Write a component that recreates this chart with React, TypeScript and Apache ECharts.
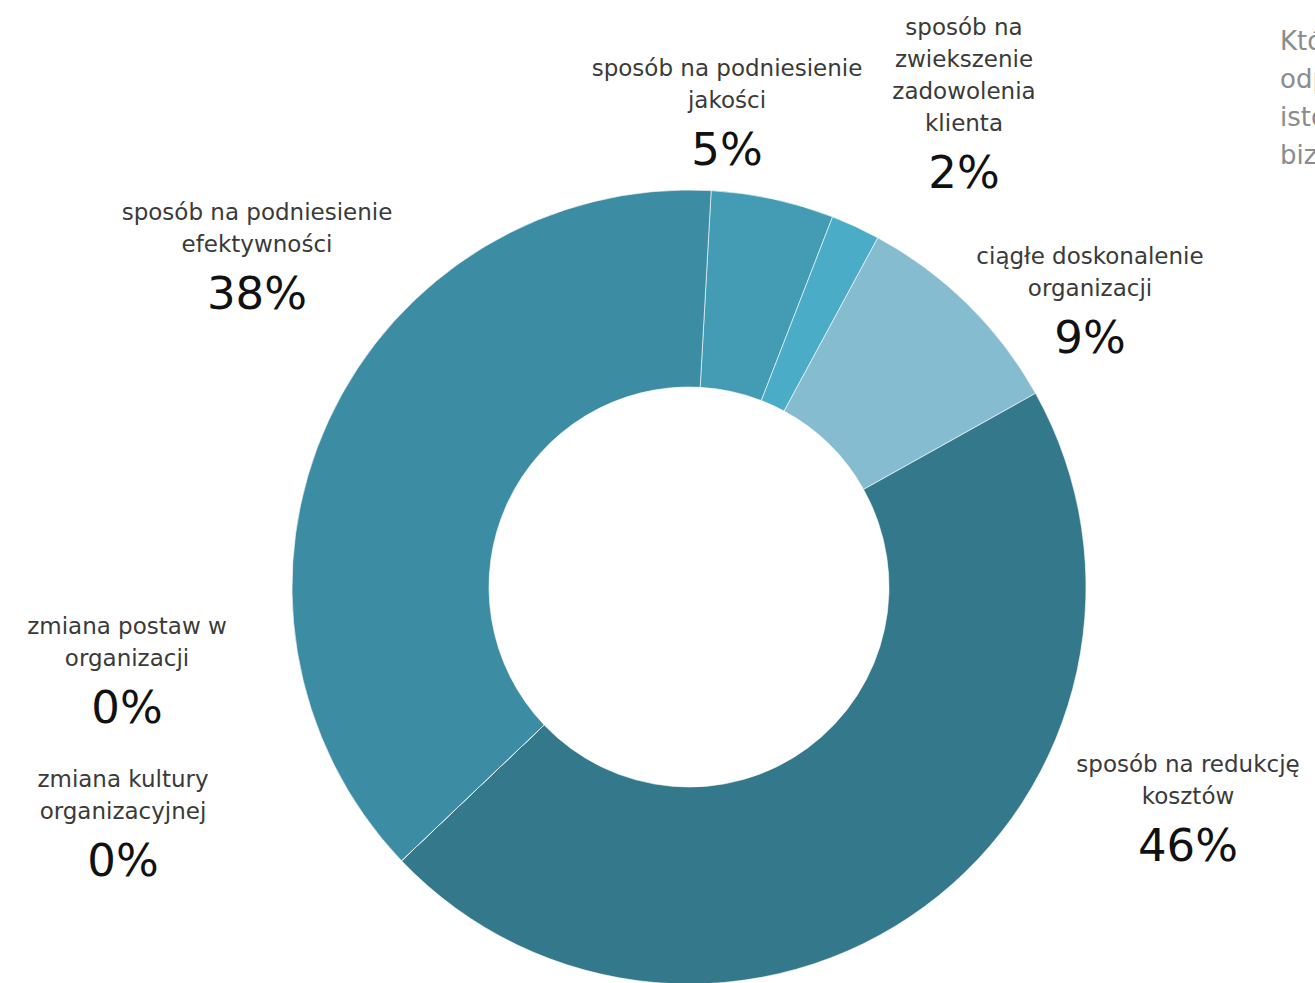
import React, { useEffect, useRef } from "react";
import * as echarts from "echarts";

const categories = [
  "sposób na podniesienie\njakości",
  "sposób na\nzwiekszenie\nzadowolenia\nklienta",
  "ciągłe doskonalenie\norganizacji",
  "sposób na redukcję\nkosztów",
  "zmiana postaw w\norganizacji",
  "zmiana kultury\norganizacyjnej",
  "sposób na podniesienie\nefektywności",
];
const values = [5, 2, 9, 46, 0, 0, 38];
const colors = ["#449cb4", "#4aacc6", "#86bccf", "#33798b", "#33798b", "#3c8ca4", "#3c8ca4"];
// label anchor (x centre, y top) per slice
const labelPos: [number, number][] = [
  [727, 52],
  [964, 11],
  [1090, 240],
  [1188, 748],
  [127, 610],
  [123, 763],
  [257, 196],
];
const titleLines = ["Która z", "odpowiedzi jest", "istotna dla", "biznesu?"];

export default function App() {
  const ref = useRef<HTMLDivElement>(null);
  useEffect(() => {
    if (!ref.current) return;
    const chart = echarts.init(ref.current, undefined, { renderer: "svg" });
    chart.setOption({
      animation: false,
      backgroundColor: "#ffffff",
      graphic: [
        {
          type: "text",
          left: 1280,
          top: 22,
          style: {
            text: titleLines.join("\n"),
            fontFamily: "DejaVu Sans",
            fontSize: 26,
            lineHeight: 38,
            fill: "#8c8c8c",
          },
        },
      ],
      series: [
        {
          type: "pie",
          center: [689, 587],
          radius: [200, 397],
          startAngle: 86.8,
          clockwise: true,
          avoidLabelOverlap: false,
          minShowLabelAngle: 0,
          itemStyle: { borderColor: "rgba(255,255,255,0.6)", borderWidth: 1 },
          labelLine: { show: false },
          label: {
            show: true,
            position: "outside",
            formatter: (p: any) => `{n|${p.name}}\n{p|${p.value}%}`,
            rich: {
              n: {
                fontFamily: "DejaVu Sans",
                fontSize: 23,
                lineHeight: 32,
                color: "#3a3a3a",
                align: "center",
              },
              p: {
                fontFamily: "DejaVu Sans",
                fontSize: 45,
                lineHeight: 66,
                color: "#111111",
                align: "center",
              },
            },
          },
          labelLayout: (params: any) => {
            const p = labelPos[params.dataIndex];
            return { x: p[0], y: p[1], align: "center", verticalAlign: "top" };
          },
          data: categories.map((name, i) => ({
            name,
            value: values[i],
            itemStyle: { color: colors[i] },
          })),
        },
      ],
    });
    return () => chart.dispose();
  }, []);
  return (
    <div
      ref={ref}
      style={{ position: "fixed", left: 0, top: 0, width: 1315, height: 983 }}
    />
  );
}
